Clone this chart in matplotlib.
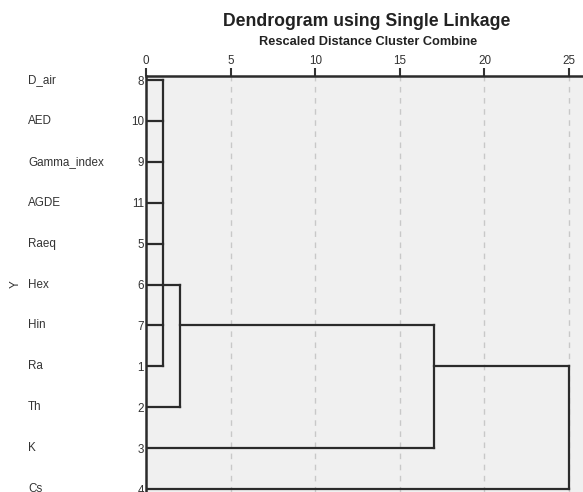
import matplotlib.pyplot as plt

plt.rcParams['font.family'] = ['Liberation Sans', 'DejaVu Sans']

labels = ['D_air', 'AED', 'Gamma_index', 'AGDE', 'Raeq', 'Hex', 'Hin', 'Ra', 'Th', 'K', 'Cs']
case_ids = [8, 10, 9, 11, 5, 6, 7, 1, 2, 3, 4]
# rescaled distance at which each leaf joins its first cluster
leaf_join = [1, 1, 1, 1, 1, 1, 1, 1, 2, 17, 25]

# merges: height, rows joined by the vertical, row the new cluster's stem leaves from
merge_height = [1, 2, 17, 25]
merge_span = [(0, 7), (5, 8), (6, 9), (7, 10)]
stem_row = [5, 6, 7]

xticks = [0, 5, 10, 15, 20, 25]

line_c = '#2b2b2b'
text_c = '#333333'

fig = plt.figure(figsize=(5.83, 4.92), dpi=100)
ax = fig.add_axes([146 / 583, 0.0, 1 - 146 / 583, 1 - 76 / 492])
ax.set_facecolor('#f0f0f0')

# leaves
for i, h in enumerate(leaf_join):
    ax.plot([0, h], [i, i], c=line_c, lw=1.6, solid_capstyle='projecting')

# vertical joins
for h, (a, b) in zip(merge_height, merge_span):
    ax.plot([h, h], [a, b], c=line_c, lw=1.6, solid_capstyle='projecting')

# stems to the next merge
for k, r in enumerate(stem_row):
    ax.plot([merge_height[k], merge_height[k + 1]], [r, r], c=line_c, lw=1.6,
            solid_capstyle='projecting')

ax.set_xlim(0, (583 - 146) / 16.92)
ax.set_ylim(10 + 3 / 40.9, -4 / 40.9)

ax.set_xticks(xticks)
ax.xaxis.tick_top()
ax.tick_params(axis='x', direction='out', length=5.5, width=1.5, color=text_c,
               labelcolor=text_c, labelsize=8.4, pad=1)
ax.grid(axis='x', ls=(0, (4, 4)), c='#c8c8c8', lw=1)

ax.set_yticks(range(len(labels)))
ax.set_yticklabels([str(c) for c in case_ids])
ax.tick_params(axis='y', length=0, pad=1.5, labelsize=8.4, labelcolor=text_c)

for i, lab in enumerate(labels):
    ax.text(28 / 583, 1 - (80 + 40.9 * i) / 492, lab, transform=fig.transFigure,
            ha='left', va='center', fontsize=8.4, color=text_c)

ax.set_ylabel('Y', fontsize=8.4, color=text_c)
ax.yaxis.set_label_coords(-124 / 437, 0.5)

for s in ['right', 'bottom']:
    ax.spines[s].set_visible(False)
ax.spines['top'].set_linewidth(1.8)
ax.spines['left'].set_linewidth(1.8)
ax.spines['top'].set_color(line_c)
ax.spines['left'].set_color(line_c)

fig.text(367 / 583, 1 - 21 / 492, 'Dendrogram using Single Linkage', ha='center',
         va='center', fontsize=12.7, fontweight='bold', color='#222222')
fig.text(368 / 583, 1 - 42 / 492, 'Rescaled Distance Cluster Combine', ha='center',
         va='center', fontsize=9.2, fontweight='bold', color='#222222')

fig.savefig('out.png', dpi=100)
